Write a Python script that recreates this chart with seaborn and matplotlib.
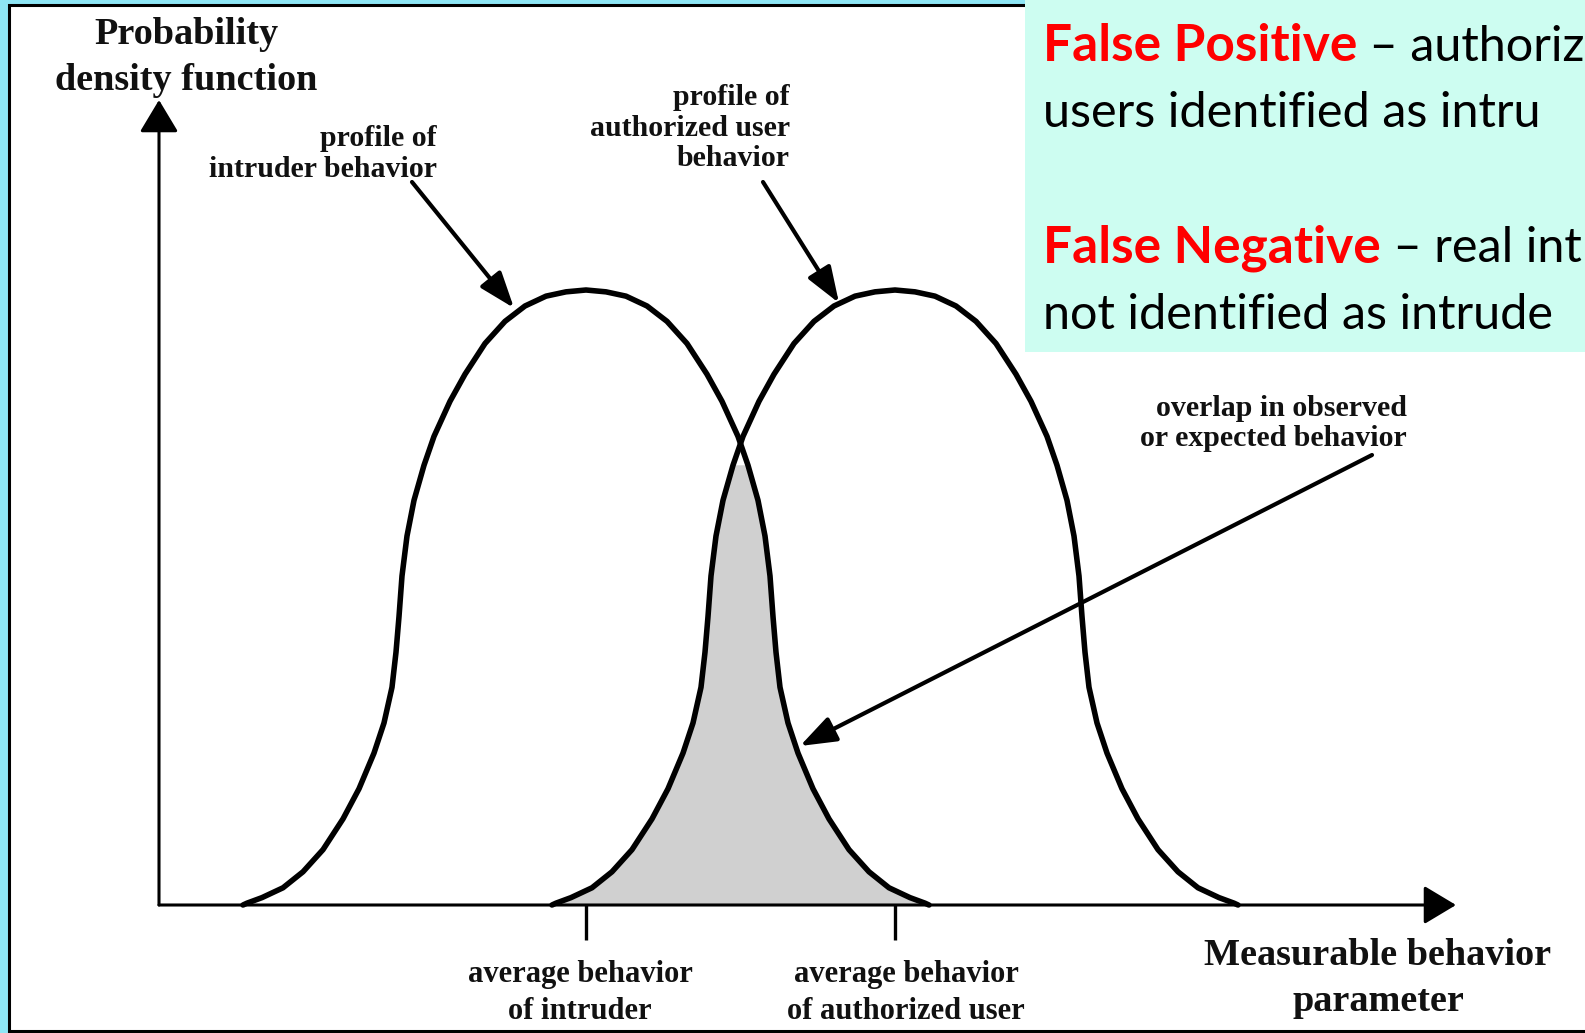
import numpy as np
import pandas as pd
import seaborn as sns
import matplotlib.pyplot as plt
from matplotlib.patches import Rectangle, FancyArrowPatch

W, H = 1585, 1033

# half of one bell-shaped profile: distance from the mean and relative density
profile_offset = [0.0, 0.20, 0.40, 0.61, 0.81, 1.01, 1.21, 1.36, 1.52, 1.62,
                  1.72, 1.79, 1.84, 1.87, 1.90, 1.94, 2.02, 2.12, 2.27, 2.43,
                  2.63, 2.83, 3.03, 3.24, 3.39, 3.43]
profile_height = [1.0, 0.997, 0.990, 0.974, 0.949, 0.913, 0.863, 0.819, 0.762,
                  0.715, 0.658, 0.600, 0.535, 0.469, 0.411, 0.354, 0.296, 0.247,
                  0.189, 0.140, 0.090, 0.054, 0.028, 0.012, 0.003, 0.0]
profiles = ["intruder", "authorized user"]
profile_means = [4.27, 7.36]

# the slide text is cut by the right edge of the picture
box_lines = [("False Positive", " \u2013 authoriz"),
             ("", "users identified as intru"),
             ("False Negative", " \u2013 real int"),
             ("", "not identified as intrude")]

sns.set_style("white")
plt.rcParams['font.family'] = ['Liberation Serif', 'DejaVu Serif']

CYAN = "#8ee6f5"
MINT = "#cdfdf1"


def fig_xy(px, py):
    return px / W, 1 - py / H


def data_xy(px, py):
    return (px - 159) / 100, (905 - py) / 615


fig = plt.figure(figsize=(W / 100, H / 100), dpi=100)
fig.patch.set_facecolor(CYAN)

panel = Rectangle(fig_xy(9, 1031), 1700 / W, 1026 / H, transform=fig.transFigure,
                  facecolor="white", edgecolor="black", lw=2.2, zorder=-2)
fig.patches.append(panel)

ax = fig.add_axes([0, 0, 1, 1])
ax.set_xlim(-1.59, 14.26)
ax.set_ylim(-(H - 905) / 615, 905 / 615)
ax.axis('off')
ax.patch.set_alpha(0)

# curves
off = np.array(profile_offset)
hgt = np.array(profile_height)
frames = []
for name, mu in zip(profiles, profile_means):
    xs = np.concatenate([mu - off[::-1], mu + off[1:]])
    ys = np.concatenate([hgt[::-1], hgt[1:]])
    frames.append(pd.DataFrame({"x": xs, "density": ys, "profile": name}))
df = pd.concat(frames, ignore_index=True)

mid = np.mean(profile_means)
left = df[(df.profile == profiles[1]) & (df.x <= mid)]
right = df[(df.profile == profiles[0]) & (df.x >= mid)]
ax.fill(np.concatenate([left.x, right.x]), np.concatenate([left.density, right.density]),
        color="#d0d0d0", lw=0, zorder=1)

sns.lineplot(data=df, x="x", y="density", hue="profile", palette=["black", "black"],
             estimator=None, sort=False, legend=False, lw=4.0, ax=ax, zorder=3)
for ln in ax.lines:
    ln.set_solid_joinstyle("round")

# axes with arrow heads
x0, y0 = data_xy(159, 905)
for tip in [data_xy(1456, 905), data_xy(159, 100)]:
    ax.add_patch(FancyArrowPatch((x0, y0), tip, arrowstyle="-|>,head_length=20,head_width=12",
                                 mutation_scale=1, lw=2.2, color="black",
                                 shrinkA=0, shrinkB=0, zorder=4))
ax.vlines(profile_means, -0.057, 0, color="black", lw=2.4, zorder=4)

# annotation arrows
for start, end in [((412, 182), (514, 308)),
                   ((763, 182), (839, 303)),
                   ((1372, 455), (800, 746))]:
    ax.add_patch(FancyArrowPatch(data_xy(*start), data_xy(*end),
                                 arrowstyle="-|>,head_length=22,head_width=8",
                                 mutation_scale=1, lw=3.0, color="black",
                                 shrinkA=0, shrinkB=0, zorder=4))


def lines_at(lines, px, baselines, size, ha):
    for s, py in zip(lines, baselines):
        fx, fy = fig_xy(px, py)
        ax.text(fx, fy, s, transform=ax.transAxes, ha=ha, va="baseline", fontsize=size,
                fontweight="bold", color="#111111", zorder=5)


lines_at(["Probability", "density function"], 186, [44, 90], 27.5, "center")
lines_at(["profile of", "intruder behavior"], 437, [146, 177], 21.5, "right")
lines_at(["profile of", "authorized user", "behavior"], 790, [105, 136, 166], 21.5, "right")
lines_at(["overlap in observed", "or expected behavior"], 1407, [416, 446], 21.5, "right")
lines_at(["average behavior", "of intruder"], 580, [982, 1019], 22, "center")
lines_at(["average behavior", "of authorized user"], 906, [982, 1019], 22, "center")
lines_at(["Measurable behavior", "parameter"], 1378, [965, 1011], 27.5, "center")

# definitions box
ax.add_patch(Rectangle(fig_xy(1025, 352), 600 / W, 360 / H, transform=ax.transAxes,
                       facecolor=MINT, edgecolor="none", zorder=6, clip_on=False))
box_font = ["Lato", "DejaVu Sans"]
for (red, black), py in zip(box_lines, [61, 127, 262, 329]):
    fx, fy = fig_xy(1043, py)
    if red:
        t = ax.text(fx, fy, red, transform=ax.transAxes, ha="left", va="baseline",
                    fontsize=37, fontweight="bold", color="#ff0000",
                    family=box_font, zorder=7)
        ax.annotate(black, xy=(1, fy), xycoords=(t, "axes fraction"), ha="left",
                    va="baseline", fontsize=35, color="black", family=box_font,
                    zorder=7, annotation_clip=False)
    else:
        ax.text(fx, fy, black, transform=ax.transAxes, ha="left", va="baseline",
                fontsize=35, color="black", family=box_font, zorder=7)

fig.savefig("out.png", dpi=100, facecolor=CYAN)
